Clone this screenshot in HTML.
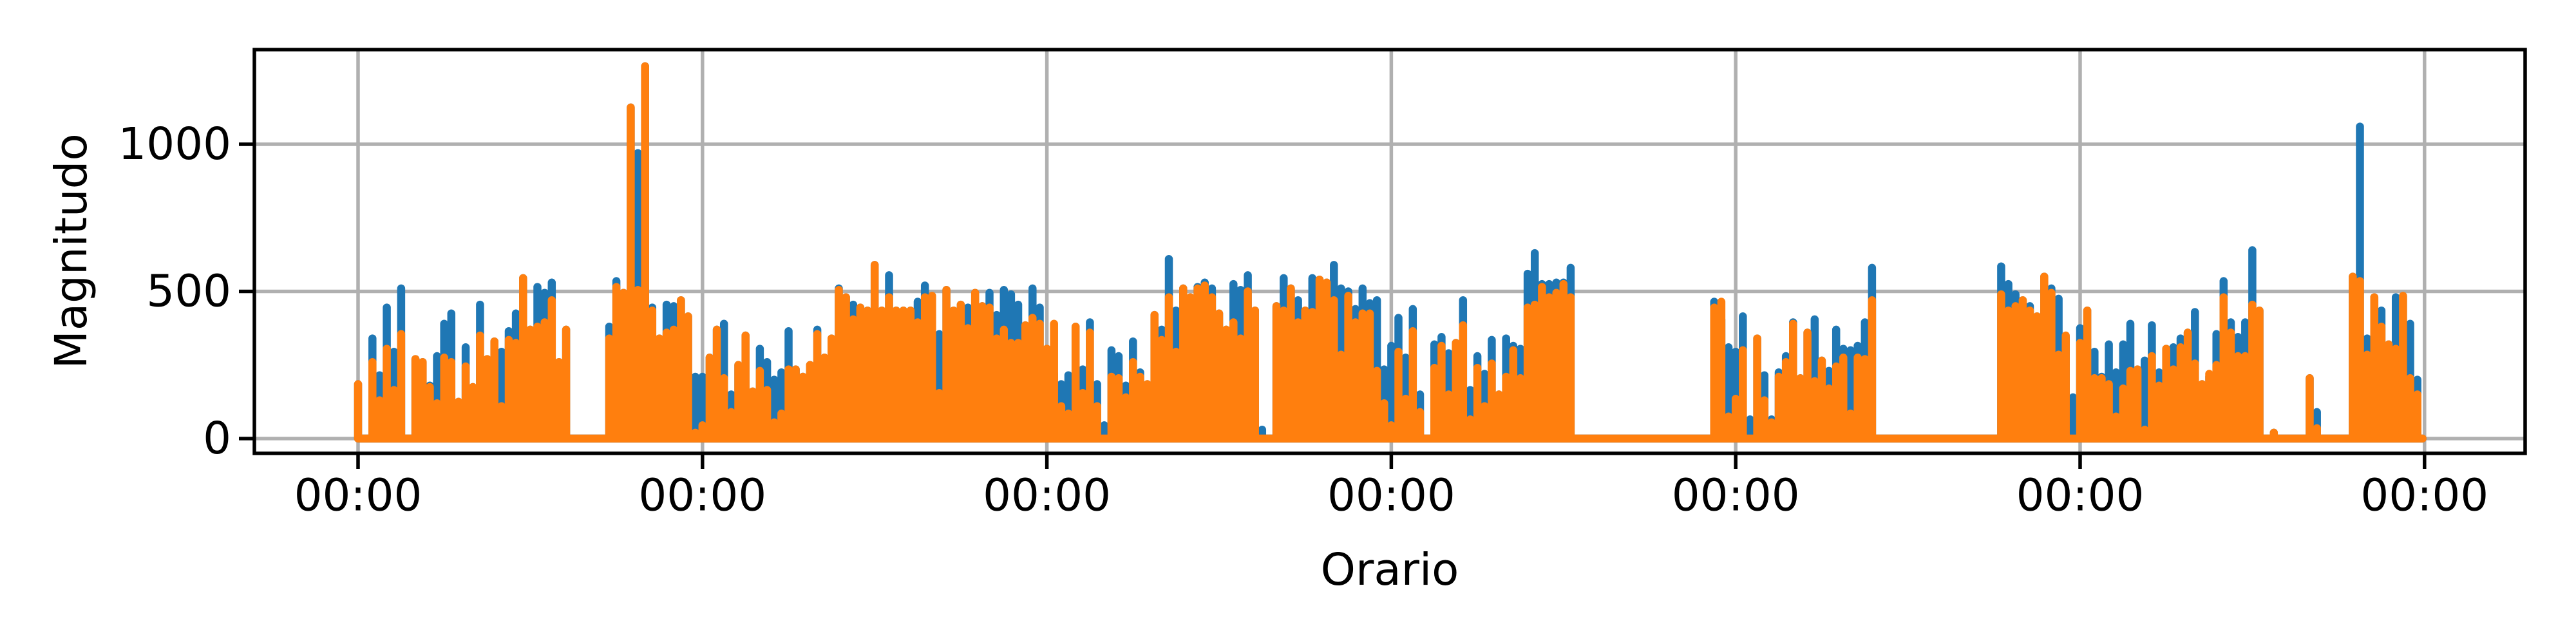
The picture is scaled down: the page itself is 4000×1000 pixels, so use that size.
<!DOCTYPE html>
<html><head><meta charset="utf-8"><style>
html,body{margin:0;padding:0;background:#fff;}
svg{display:block;}
text{font-family:"DejaVu Sans","Liberation Sans",sans-serif;fill:#000;}
</style></head><body>
<svg id="chart" width="4000" height="1000" viewBox="0 0 4000 1000" xmlns="http://www.w3.org/2000/svg">
<rect width="4000" height="1000" fill="#fff"/>
<g id="grid"></g>
<g id="series"></g>
<g id="axes"></g>
<text x="111" y="390" font-size="69" text-anchor="middle" dominant-baseline="central" transform="rotate(-90 111 390)">Magnitudo</text>
<text x="2158" y="885" font-size="69" text-anchor="middle" dominant-baseline="central">Orario</text>
</svg>
<script>
const yTicks = [0, 500, 1000];
const yTickLabels = ["0", "500", "1000"];
const xTickDays = [0, 1, 2, 3, 4, 5, 6];
const xTickLabels = ["00:00","00:00","00:00","00:00","00:00","00:00","00:00"];
const samplesPerDay = 48;
const blueDay0 = [185,0,340,215,445,295,510,0,270,260,180,280,390,425,125,310,175,455,270,330,295,365,425,545,370,515,495,530,260,370,0,0,0,0,0,380,535,495,1125,970,1265,445,340,455,450,470,415,210];
const orangeDay0 = [185,0,260,130,305,165,355,0,270,260,175,120,275,260,125,245,175,350,270,330,110,335,325,545,370,380,395,470,260,370,0,0,0,0,0,340,515,495,1125,505,1265,435,340,360,370,470,415,20];
const blueDay1 = [210,275,370,390,150,250,350,160,305,260,200,225,365,235,210,250,370,275,340,510,480,455,445,435,590,435,555,435,435,435,465,520,485,355,505,435,455,445,495,450,495,420,505,490,455,385,510,445];
const orangeDay1 = [45,275,370,205,90,250,350,160,230,165,55,85,235,235,210,250,355,275,340,505,480,405,445,435,590,435,480,435,435,435,395,480,485,155,505,435,455,375,495,450,445,340,370,325,325,385,410,390];
const blueDay2 = [305,220,185,215,380,235,395,185,45,300,280,180,330,225,185,420,370,610,435,510,480,515,530,510,425,370,525,505,555,435,30,0,450,545,510,470,435,545,540,530,590,510,500,440,510,460,470,235];
const orangeDay2 = [305,390,110,85,380,155,360,110,0,210,205,140,260,210,185,420,335,480,295,510,480,510,520,480,425,370,395,340,500,435,0,0,450,435,510,395,435,430,540,530,470,285,485,395,425,425,230,120];
const blueDay3 = [315,410,275,440,150,0,320,345,290,325,470,165,280,220,335,150,340,315,305,560,630,525,525,530,530,580,0,0,0,0,0,0,0,0,0,0,0,0,0,0,0,0,0,0,0,465,405,310];
const orangeDay3 = [45,295,135,365,90,0,240,315,150,325,385,65,240,110,255,150,210,300,205,445,455,515,480,495,525,480,0,0,0,0,0,0,0,0,0,0,0,0,0,0,0,0,0,0,0,445,465,75];
const blueDay4 = [295,415,65,340,215,65,225,280,395,205,360,405,265,230,370,305,300,315,395,580,0,0,0,0,0,0,0,0,0,0,0,0,0,0,0,0,0,585,525,490,470,450,415,550,510,475,345,140];
const orangeDay4 = [135,300,0,340,130,55,210,260,390,205,360,195,265,170,245,275,85,275,270,470,0,0,0,0,0,0,0,0,0,0,0,0,0,0,0,0,0,490,435,450,470,435,415,550,495,285,350,0];
const blueDay5 = [375,435,295,210,320,225,320,390,235,265,385,225,305,310,340,360,430,185,210,355,535,395,345,395,640,435,0,20,0,0,0,0,205,90,0,0,0,0,550,1060,340,480,435,320,480,485,390,200];
const orangeDay5 = [325,435,205,205,185,75,170,230,235,30,280,180,305,235,310,360,255,185,220,250,480,360,280,280,455,435,0,20,0,0,0,0,205,35,0,0,0,0,550,535,285,480,380,320,305,485,205,150];
const blueValues = [].concat(blueDay0, blueDay1, blueDay2, blueDay3, blueDay4, blueDay5);
const orangeValues = [].concat(orangeDay0, orangeDay1, orangeDay2, orangeDay3, orangeDay4, orangeDay5);

const NS = "http://www.w3.org/2000/svg";
const L = 395, R = 3921, T = 77, B = 704;
const X0 = 556, DAYPX = 534.8;
function xScale(day){ return X0 + day * DAYPX; }
function yScale(v){ return 681 - v * 0.457; }
function mk(tag, attrs, parent){
  const e = document.createElementNS(NS, tag);
  for (const k in attrs) e.setAttribute(k, attrs[k]);
  parent.appendChild(e); return e;
}
const grid = document.getElementById('grid');
const axes = document.getElementById('axes');
const series = document.getElementById('series');

yTicks.forEach((v, i) => {
  const y = yScale(v);
  const g = mk('line', {x1:L, x2:R, y1:y, y2:y, stroke:'#b0b0b0', 'stroke-width':5.5}, grid);
  
  
  const t = mk('line', {x1:L-24, x2:L, y1:y, y2:y, stroke:'#000', 'stroke-width':5.5}, axes);
  
  
  const tx = mk('text', {x:L-36, y:y, 'font-size':69, 'text-anchor':'end', 'dominant-baseline':'central'}, axes);
  tx.textContent = yTickLabels[i];
  
  
});
xTickDays.forEach((d, i) => {
  const x = xScale(d);
  const g = mk('line', {x1:x, x2:x, y1:T, y2:B, stroke:'#b0b0b0', 'stroke-width':5.5}, grid);
  
  
  const t = mk('line', {x1:x, x2:x, y1:B, y2:B+24, stroke:'#000', 'stroke-width':5.5}, axes);
  
  
  const tx = mk('text', {x:x, y:B+38, 'font-size':69, 'text-anchor':'middle', 'dominant-baseline':'hanging'}, axes);
  tx.textContent = xTickLabels[i];
  
  
});
const frame = mk('rect', {x:L, y:T, width:R-L, height:B-T, fill:'none', stroke:'#000', 'stroke-width':5.5}, axes);



function drawSeries(vals, color, name){
  let d = '';
  const n = vals.length;
  for (let i = 0; i < n; i++){
    if (vals[i] <= 0) continue;
    const x = xScale(i / samplesPerDay);
    d += 'M' + x.toFixed(1) + ' ' + yScale(0) + 'V' + yScale(vals[i]).toFixed(1);
  }
  d += 'M' + xScale(0) + ' ' + yScale(0) + 'H' + xScale((n - 1) / samplesPerDay + 0.015).toFixed(1);
  const p = mk('path', {d:d, stroke:color, 'stroke-width':12.5, fill:'none', 'stroke-linecap':'round'}, series);
  
  
}
drawSeries(blueValues, '#1f77b4', 'blue-series');
drawSeries(orangeValues, '#ff7f0e', 'orange-series');
</script>
</body></html>
